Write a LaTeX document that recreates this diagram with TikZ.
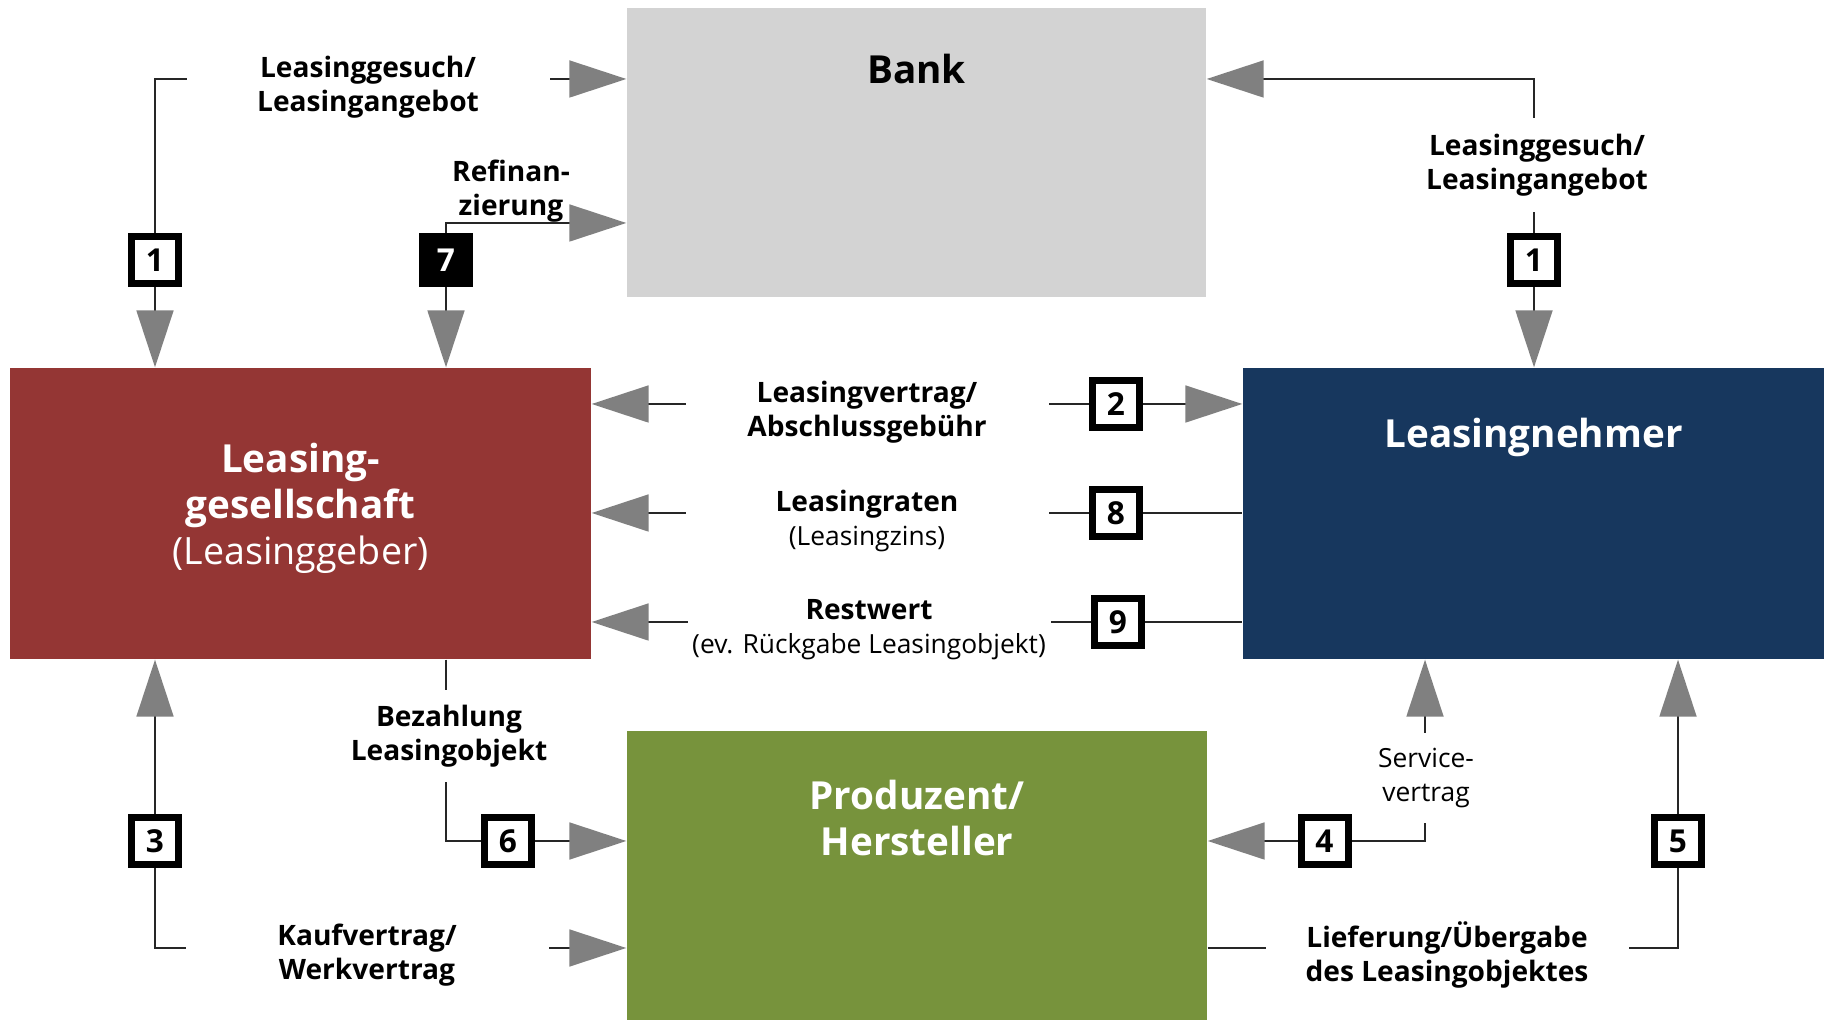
\documentclass[tikz,border=0pt]{standalone}
\usepackage{fontspec}
\setmainfont{Open Sans}
\usetikzlibrary{arrows.meta,backgrounds}

\definecolor{lgred}{HTML}{943634}
\definecolor{lgblue}{HTML}{17375E}
\definecolor{lggreen}{HTML}{77933C}
\definecolor{lgbank}{HTML}{D3D3D3}
\definecolor{lgarrow}{HTML}{808080}

\newcommand{\boxfont}{\fontsize{11}{13}\selectfont\bfseries}
\newcommand{\boxthin}{\fontsize{10.7}{13}\selectfont\mdseries}
\newcommand{\lblfont}{\fontsize{8}{9.6}\selectfont\bfseries}
\newcommand{\lblthin}{\fontsize{7.5}{9.6}\selectfont\mdseries}

\tikzset{
  mainbox/.style={minimum width=5.81cm, minimum height=2.91cm, inner sep=0pt},
  boxtext/.style={anchor=center, align=center, font=\boxfont, text=white},
  nrbox/.style={draw=black, line width=0.7mm, fill=white, minimum size=4.7mm,
    inner sep=0pt, font=\fontsize{9}{10}\selectfont\bfseries},
  nrfull/.style={nrbox, fill=black, text=white},
  lbl/.style={align=center, inner sep=0pt, font=\lblfont},
  gaplbl/.style={lbl, fill=white, minimum width=3.63cm},
  flow/.style={line width=0.5pt, draw=black!85},
  arr/.style={flow, -{Triangle[length=5.7mm,width=3.7mm,color=lgarrow,fill=lgarrow]}},
}

\begin{document}
\begin{tikzpicture}[x=1cm,y=1cm]
  \useasboundingbox (0,0) rectangle (18.27,-10.20);
  % Hauptfelder
  \node[mainbox, fill=lgbank, minimum width=5.79cm, minimum height=2.89cm,
    label={[boxtext, text=black, yshift=-6.2mm]north:Bank}] (bank) at (9.165,-1.525) {};
  \node[mainbox, fill=lgred,
    label={[boxtext, yshift=0.5mm]center:Leasing-\\gesellschaft\\{\boxthin(Leasinggeber)}}] (red) at (3.005,-5.135) {};
  \node[mainbox, fill=lgblue,
    label={[boxtext, yshift=-7.0mm]north:Leasingnehmer}] (blue) at (15.335,-5.135) {};
  \node[mainbox, fill=lggreen, minimum width=5.80cm, minimum height=2.89cm,
    label={[boxtext, yshift=-8.8mm]north:Produzent/\\Hersteller}] (green) at (9.17,-8.755) {};

  % Nummern
  \node[nrbox] (nr1l) at (1.55,-2.60) {1};
  \node[nrfull] (nr7) at (4.46,-2.60) {7};
  \node[nrbox] (nr1r) at (15.34,-2.60) {1};
  \node[nrbox] (nr2) at (11.16,-4.04) {2};
  \node[nrbox] (nr8) at (11.16,-5.13) {8};
  \node[nrbox] (nr9) at (11.18,-6.22) {9};
  \node[nrbox] (nr3) at (1.55,-8.41) {3};
  \node[nrbox] (nr6) at (5.08,-8.41) {6};
  \node[nrbox] (nr4) at (13.245,-8.41) {4};
  \node[nrbox] (nr5) at (16.78,-8.41) {5};

  % Beschriftungen
  \node[gaplbl] (gesuchl) at (3.68,-0.87) {Leasinggesuch/\\Leasingangebot};
  \node[lbl] (refi) at (5.11,-1.91) {Refinan-\\zierung};
  \node[gaplbl, minimum width=0pt, minimum height=0.94cm] (gesuchr) at (15.37,-1.65) {Leasinggesuch/\\Leasingangebot};
  \node[gaplbl] (vertrag) at (8.67,-4.12) {Leasingvertrag/\\Abschlussgebühr};
  \node[gaplbl] (raten) at (8.67,-5.21) {Leasingraten\\{\lblthin(Leasingzins)}};
  \node[gaplbl] (rest) at (8.69,-6.30) {Restwert\\{\lblthin(ev. Rückgabe Leasingobjekt)}};
  \node[gaplbl] (kauf) at (3.67,-9.55) {Kaufvertrag/\\Werkvertrag};
  \node[gaplbl, minimum width=0pt, minimum height=0.92cm] (bezahl) at (4.49,-7.36) {Bezahlung\\Leasingobjekt};
  \node[gaplbl, minimum width=0pt, minimum height=0.90cm, font=\lblthin] (service) at (14.26,-7.78) {Service-\\vertrag};
  \node[gaplbl] (liefer) at (14.47,-9.55) {Lieferung/Übergabe\\des Leasingobjektes};

  % freie Enden
  \coordinate (bk1) at (bank.west |- 0,-0.79);
  \coordinate (bk7) at (bank.west |- 0,-2.23);
  \coordinate (bk1r) at (bank.east |- 0,-0.79);
  \coordinate (gr3) at (green.west |- 0,-9.48);
  \coordinate (gr5) at (green.east |- 0,-9.48);
  \coordinate (bl4) at (blue.south -| 14.25,0);

  % Verbindungen
  \begin{scope}[on background layer]
    \fill[white] (0,0) rectangle (18.27,-10.20);
    \draw[arr] (nr1l.north) |- (bk1);
    \draw[arr] (nr1l.south) -- (nr1l.south |- red.north);
    \draw[arr] (nr7.north) |- (bk7);
    \draw[arr] (nr7.south) -- (nr7.south |- red.north);
    \draw[arr] (nr1r.north) |- (bk1r);
    \draw[arr] (nr1r.south) -- (nr1r.south |- blue.north);
    \draw[arr] (nr2.west) -- (nr2.west -| red.east);
    \draw[arr] (nr2.east) -- (nr2.east -| blue.west);
    \draw[arr] (nr8.west) -- (nr8.west -| red.east);
    \draw[flow] (nr8.east) -- (nr8.east -| blue.west);
    \draw[arr] (nr9.west) -- (nr9.west -| red.east);
    \draw[flow] (nr9.east) -- (nr9.east -| blue.west);
    \draw[arr] (nr3.north) -- (nr3.north |- red.south);
    \draw[arr] (nr3.south) |- (gr3);
    \draw[flow] (red.south -| nr7) |- (nr6.west);
    \draw[arr] (nr6.east) -- (nr6.east -| green.west);
    \draw[arr] (nr4.west) -- (nr4.west -| green.east);
    \draw[arr] (nr4.east) -| (bl4);
    \draw[flow] (gr5) -| (nr5.south);
    \draw[arr] (nr5.north) -- (nr5.north |- blue.south);
  \end{scope}
\end{tikzpicture}
\end{document}
